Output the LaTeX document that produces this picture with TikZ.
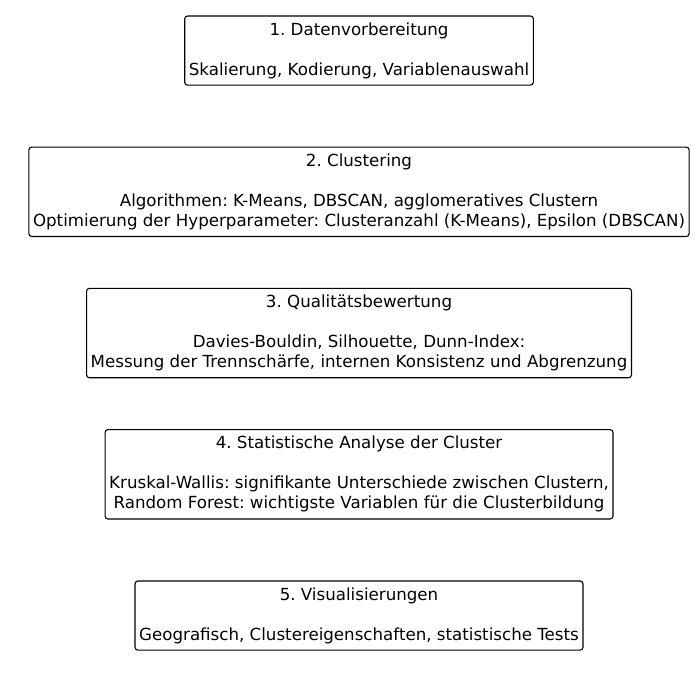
\documentclass[tikz,border=0pt]{standalone}
\usepackage{fontspec}
\setmainfont{DejaVu Sans}
\usepackage{tikz}
\usetikzlibrary{positioning}
\tikzstyle{stepbox}=[draw, rounded corners=2pt, line width=0.8pt,
                     align=center, inner xsep=3pt, inner ysep=0pt,
                     font=\fontsize{12}{14.4}\selectfont\frenchspacing]
\tikzstyle{short}  =[minimum height=49.7pt]
\tikzstyle{tall}   =[minimum height=64.3pt]

\begin{document}
\begin{tikzpicture}[node distance=101.7pt, on grid]
    \useasboundingbox (0,0) rectangle (504pt,-504pt);

    \node (prep) [stepbox, short] at (258.5pt,-36.4pt)
        {1. Datenvorbereitung\\[\baselineskip]
         Skalierung, Kodierung, Variablenauswahl};
    \node (clust) [stepbox, tall, below= of prep]
        {2. Clustering\\[\baselineskip]
         Algorithmen: K-Means, DBSCAN, agglomeratives Clustern\\
         Optimierung der Hyperparameter: Clusteranzahl (K-Means), Epsilon (DBSCAN)};
    \node (eval) [stepbox, tall, below= of clust]
        {3. Qualitätsbewertung\\[\baselineskip]
         Davies-Bouldin, Silhouette, Dunn-Index:\\
         Messung der Trennschärfe, internen Konsistenz und Abgrenzung};
    \node (stat) [stepbox, tall, below= of eval]
        {4. Statistische Analyse der Cluster\\[\baselineskip]
         Kruskal-Wallis: signifikante Unterschiede zwischen Clustern,\\
         Random Forest: wichtigste Variablen für die Clusterbildung};
    \node (vis) [stepbox, short, below= of stat]
        {5. Visualisierungen\\[\baselineskip]
         Geografisch, Clustereigenschaften, statistische Tests};
\end{tikzpicture}
\end{document}
